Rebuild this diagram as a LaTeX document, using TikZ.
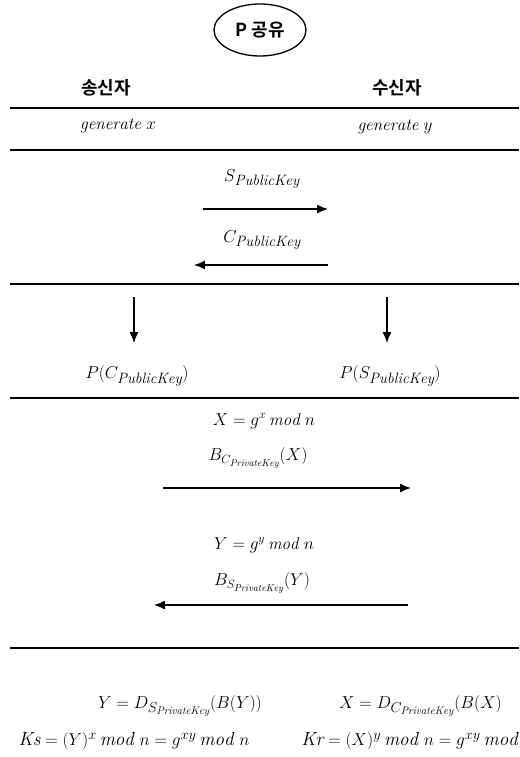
\documentclass[tikz,border=0pt]{standalone}
\usepackage{fontspec}
\newfontfamily\kor{Noto Sans CJK KR}[BoldFont={* Bold}]
\usetikzlibrary{arrows.meta,shapes.geometric}
\DeclareMathSizes{17}{17}{13}{10}
\DeclareMathSizes{17.5}{17.5}{15}{11}
\DeclareMathSizes{18}{18}{14}{11}
\DeclareMathSizes{19}{19}{14}{11}
\begin{document}
\begin{tikzpicture}[x=1pt,y=-1pt,
  rule/.style={line width=1.4pt},
  msg/.style={line width=1.3pt,-{Latex[length=11pt,width=9pt]}},
  lbl/.style={inner sep=1pt,font=\fontsize{17}{20}\selectfont},
  pk/.style={inner sep=1pt,font=\fontsize{17.5}{20}\selectfont},
  big/.style={inner sep=1pt,font=\fontsize{18}{21}\selectfont},
  key/.style={inner sep=1pt,font=\fontsize{19}{22}\selectfont},
  kor/.style={inner sep=1pt,font=\kor\bfseries\fontsize{18}{20}\selectfont}]
\useasboundingbox (0,0) rectangle (519,757);
% title ellipse
\node[draw,ellipse,line width=1.3pt,minimum width=92pt,minimum height=52pt,inner sep=0pt,font=\kor\bfseries\fontsize{18}{20}\selectfont] (title) at (260,30) {P 공유};
\node[kor] (snd) at (106,88) {송신자};
\node[kor] (rcv) at (397,88) {수신자};
% rules
\coordinate (r1a) at (10,108); \coordinate (r1b) at (519,108);
\coordinate (r2a) at (10,150); \coordinate (r2b) at (519,150);
\coordinate (r3a) at (10,284); \coordinate (r3b) at (519,284);
\coordinate (r4a) at (10,398); \coordinate (r4b) at (519,398);
\coordinate (r5a) at (10,648); \coordinate (r5b) at (519,648);
\foreach \r in {r1,r2,r3,r4,r5} \draw[rule] (\r a) -- (\r b);
% generate
\node[lbl] (gx) at (118,126) {$\mathit{generate}\ x$};
\node[lbl] (gy) at (395,127) {$\mathit{generate}\ y$};
% public key exchange
\node[pk] (spk) at (262,179) {$S_{\mathit{PublicKey}}$};
\coordinate (a1s) at (203,209); \coordinate (a1e) at (328,209);
\draw[msg] (a1s) -- (a1e);
\node[pk] (cpk) at (262,240) {$C_{\mathit{PublicKey}}$};
\coordinate (a2s) at (328,265); \coordinate (a2e) at (194,265);
\draw[msg] (a2s) -- (a2e);
% down arrows
\node[pk] (pc) at (137,376) {$P(C_{\mathit{PublicKey}})$};
\node[pk] (ps) at (390,376) {$P(S_{\mathit{PublicKey}})$};
\coordinate (d1) at (134,297); \coordinate (d2) at (387,297);
\draw[msg] (d1) -- (134,343);
\draw[msg] (d2) -- (387,343);
% DH exchange
\node[lbl] (xg) at (264,421) {$X = g^{x}\,\mathit{mod}\ n$};
\node[lbl] (ex) at (258,458) {$B_{C_{\mathit{PrivateKey}}}(X)$};
\coordinate (a3s) at (163,488); \coordinate (a3e) at (411,488);
\draw[msg] (a3s) -- (a3e);
\node[lbl] (yg) at (264,545) {$Y = g^{y}\,\mathit{mod}\ n$};
\node[lbl] (ey) at (262,583) {$B_{S_{\mathit{PrivateKey}}}(Y)$};
\coordinate (a4s) at (408,605); \coordinate (a4e) at (154,605);
\draw[msg] (a4s) -- (a4e);
% results
\node[big] (dy) at (180,706) {$Y = D_{S_{\mathit{PrivateKey}}}(B(Y))$};
\node[big,anchor=west] (dx) at (338,706) {$X = D_{C_{\mathit{PrivateKey}}}(B(X)$};
\node[key] (ks) at (134,741) {$\mathit{Ks} = (Y)^{x}\,\mathit{mod}\ n = g^{xy}\,\mathit{mod}\ n$};
\node[key,anchor=east] (kr) at (519,741) {$\mathit{Kr} = (X)^{y}\,\mathit{mod}\ n = g^{xy}\,\mathit{mod}$};
\end{tikzpicture}
\end{document}
